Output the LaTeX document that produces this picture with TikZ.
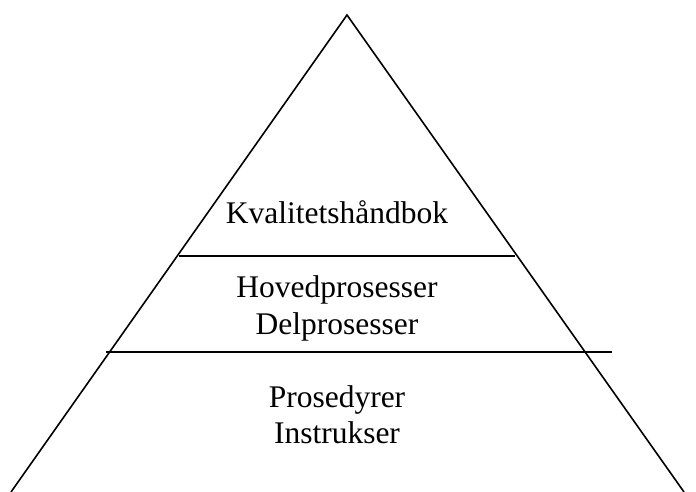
\documentclass[tikz,border=0pt]{standalone}
\usepackage{fontspec}
\setmainfont{Liberation Serif}
\begin{document}
\begin{tikzpicture}[x=1pt,y=-1pt,
  edge/.style={line width=1.6pt, line join=miter},
  level/.style={font=\fontsize{31.5}{37}\selectfont, inner sep=0pt, anchor=base}]
\useasboundingbox (0,0) rectangle (696,492);
% pyramid outline
\coordinate (apex) at (347,15);
\coordinate (bl) at (11,492);
\coordinate (br) at (684,492);
\draw[edge] (bl) -- (apex) -- (br);
% dividing lines
\coordinate (d1l) at (179,256);
\coordinate (d1r) at (515,256);
\coordinate (d2l) at (106,352);
\coordinate (d2r) at (612,352);
\draw[edge] (d1l) -- (d1r);
\draw[edge] (d2l) -- (d2r);
% level labels
\node[level] (top) at (337,223) {Kvalitetshåndbok};
\node[level] (mid1) at (337,297) {Hovedprosesser};
\node[level] (mid2) at (337,334) {Delprosesser};
\node[level] (low1) at (337,407) {Prosedyrer};
\node[level] (low2) at (337,443) {Instrukser};
\end{tikzpicture}
\end{document}
